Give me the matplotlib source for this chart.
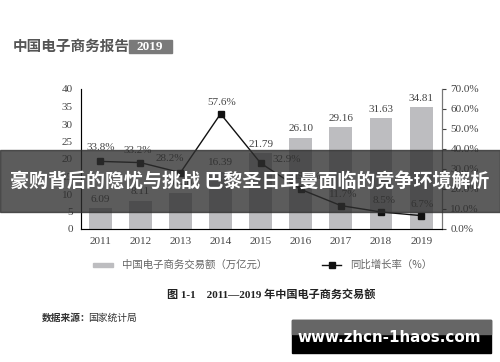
import matplotlib.pyplot as plt
from matplotlib.patches import Rectangle
from matplotlib.lines import Line2D

plt.rcParams['font.family'] = ['Liberation Serif', 'Noto Sans CJK SC']

years = ['2011', '2012', '2013', '2014', '2015', '2016', '2017', '2018', '2019']
amount = [6.09, 8.11, 10.40, 16.39, 21.79, 26.10, 29.16, 31.63, 34.81]
growth = [33.8, 33.2, 28.2, 57.6, 32.9, 19.8, 11.7, 8.5, 6.7]
left_ticks = [0, 5, 10, 15, 20, 25, 30, 35, 40]
right_ticks = [0, 10, 20, 30, 40, 50, 60, 70]

# label offsets (points) for the growth labels
g_off = [(0, 10), (-2, 9), (-8, 10), (1, 8), (19, 3), (5, 9), (2, 8), (2, 8), (1, 8)]

fig = plt.figure(figsize=(5, 3.62), dpi=100)
W, H = 500, 362

def fx(px):
    return px / W

def fy(py):
    return 1 - py / H

ax = fig.add_axes([fx(81), fy(229), fx(442) - fx(81), fy(89) - fy(229)])
x = list(range(len(years)))
ax.bar(x, amount, width=0.57, color='#bdbdc0', zorder=2)
ax.set_xlim(-0.48, 8.52)
ax.set_ylim(0, 40)
ax.set_yticks(left_ticks)
ax.set_xticks(x)
ax.set_xticklabels(years)
ax.tick_params(axis='y', labelsize=8, colors='#444', length=0, pad=6)
ax.tick_params(axis='x', labelsize=8, colors='#444', length=0, pad=6)
ax.spines['top'].set_visible(False)
for s in ['left', 'bottom', 'right']:
    ax.spines[s].set_color('#777')
    ax.spines[s].set_linewidth(0.8)
for xi, v in zip(x, amount):
    ax.annotate(f'{v:.2f}', (xi, v), xytext=(0, 3), textcoords='offset points',
                ha='center', va='bottom', fontsize=8, color='#444')

ax2 = ax.twinx()
ax2.plot(x, growth, color='#111', linewidth=1.0, marker='s', markersize=4.5, zorder=3)
ax2.set_ylim(0, 70)
ax2.set_yticks(right_ticks)
ax2.set_yticklabels([f'{t:.1f}%' for t in right_ticks])
ax2.tick_params(axis='y', labelsize=8, colors='#444', length=3, pad=3)
ax2.spines['top'].set_visible(False)
ax2.spines['right'].set_color('#777')
for xi, v, o in zip(x, growth, g_off):
    ax2.annotate(f'{v}%', (xi, v), xytext=o, textcoords='offset points',
                 ha='center', va='center', fontsize=8, color='#444')

# header
fig.text(fx(13), fy(46), '中国电子商务报告', fontsize=10.5, fontweight='bold',
         color='#555', family=['Noto Sans CJK SC'], va='center', ha='left')
fig.patches.append(Rectangle((fx(129), fy(53)), fx(43), fy(40) - fy(53),
                             transform=fig.transFigure, color='#7a7a7a', zorder=1))
fig.text(fx(150), fy(46.5), '2019', fontsize=9.5, fontweight='bold', color='white',
         va='center', ha='center', zorder=2)

# legend
fig.patches.append(Rectangle((fx(93), fy(267)), fx(20), fy(263) - fy(267),
                             transform=fig.transFigure, color='#bdbdc0'))
fig.text(fx(122), fy(265), '中国电子商务交易额（万亿元）', fontsize=7.5, color='#666',
         family=['Noto Sans CJK SC'], va='center')
fig.lines.append(Line2D([fx(322), fx(341)], [fy(265), fy(265)], transform=fig.transFigure,
                        color='#111', linewidth=1.0))
fig.lines.append(Line2D([fx(331.5)], [fy(265)], transform=fig.transFigure,
                        color='#111', marker='s', markersize=4))
fig.text(fx(350), fy(265), '同比增长率（%）', fontsize=7.5, color='#666',
         family=['Noto Sans CJK SC', 'Liberation Serif'], va='center')

# caption
fig.text(fx(271), fy(294), '图 1-1    2011—2019 年中国电子商务交易额', fontsize=8,
         fontweight='bold', color='#222', ha='center', va='center')
fig.text(fx(42), fy(318), '数据来源：', fontsize=7, fontweight='bold', color='#333',
         family=['Noto Sans CJK SC'], va='center')
fig.text(fx(88), fy(318), '国家统计局', fontsize=7, color='#333',
         family=['Noto Sans CJK SC'], va='center')

# banner overlay
fig.patches.append(Rectangle((0, fy(212)), 1, fy(150) - fy(212), transform=fig.transFigure,
                             color='#2e2e2e', alpha=0.78, zorder=10))
fig.text(0.5, fy(181), '豪购背后的隐忧与挑战 巴黎圣日耳曼面临的竞争环境解析', fontsize=13.7,
         fontweight='bold', color='white', family=['Noto Sans CJK SC'],
         ha='center', va='center', zorder=11)

# watermark
fig.patches.append(Rectangle((fx(292), fy(353)), fx(199), fy(320) - fy(353),
                             transform=fig.transFigure, color='#000000', zorder=10))
fig.patches.append(Rectangle((fx(292), fy(334)), fx(199), fy(320) - fy(334),
                             transform=fig.transFigure, color='#666666', zorder=10))
fig.text(fx(389), fy(337), 'www.zhcn-1haos.com', fontsize=10.9, fontweight='bold',
         color='white', family=['DejaVu Sans'], ha='center', va='center', zorder=11)

fig.savefig('out.png', dpi=100)
